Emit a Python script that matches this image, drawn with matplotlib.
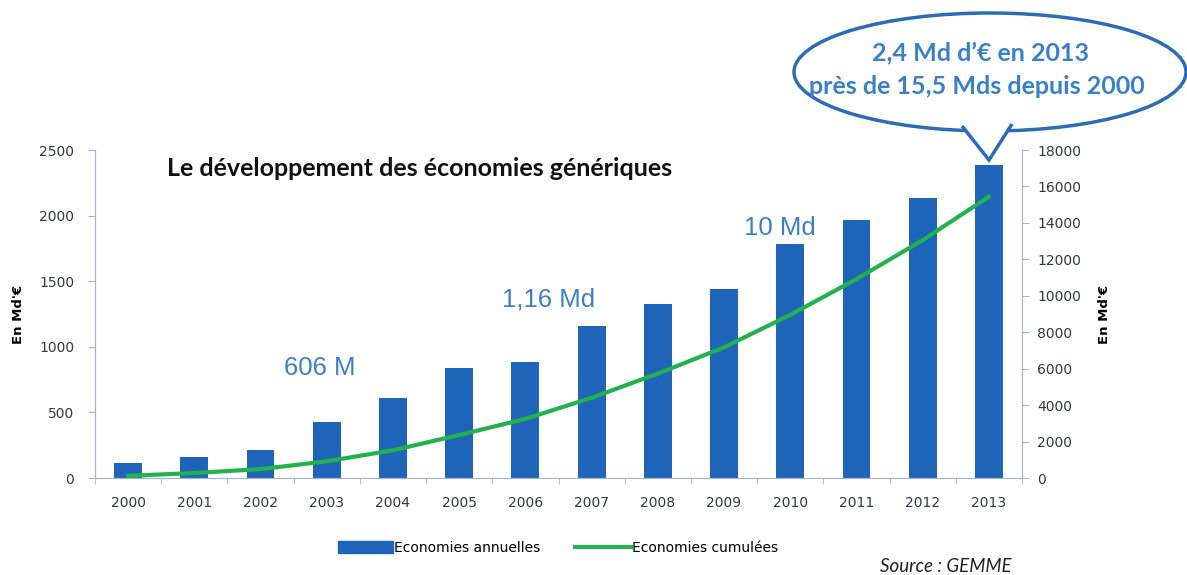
import matplotlib.pyplot as plt
from matplotlib.patches import Ellipse, Polygon
from matplotlib.lines import Line2D
from matplotlib.patches import Patch

# --- data -------------------------------------------------------------
years = ['2000', '2001', '2002', '2003', '2004', '2005', '2006',
         '2007', '2008', '2009', '2010', '2011', '2012', '2013']
annuelles = [115, 160, 213, 427, 606, 838, 884,
             1160, 1326, 1440, 1783, 1966, 2134, 2386]
cumulees = [115, 275, 488, 915, 1521, 2359, 3243,
            4403, 5729, 7169, 8952, 10918, 13052, 15438]

notes = ['606 M', '1,16 Md', '10 Md']
notes_x = [2.9, 6.35, 9.85]
notes_y = [840, 1360, 1905]

W, H = 1187, 575
bar_col = '#1e64b9'
line_col = '#22b14c'
axis_col = '#9fb8cf'
txt_blue = '#3b7fc9'

def px(x, y):
    return x / W, 1 - y / H

fig = plt.figure(figsize=(W / 100, H / 100), dpi=100)
ax = fig.add_axes([95 / W, 1 - 478 / H, (1022 - 95) / W, (478 - 150) / H])
ax2 = ax.twinx()

xs = range(len(years))
ax.bar(xs, annuelles, width=0.42, color=bar_col, zorder=2)
ax2.plot(xs, cumulees, color=line_col, lw=3, zorder=3)

ax.set_xlim(-0.5, len(years) - 0.5)
ax.set_ylim(0, 2500)
ax2.set_ylim(0, 18000)
ax.set_yticks(range(0, 2501, 500))
ax2.set_yticks(range(0, 18001, 2000))
ax.set_xticks(xs)
ax.set_xticklabels(years)
ax.set_xticks([i - 0.5 for i in range(len(years) + 1)], minor=True)
ax.tick_params(axis='x', which='major', length=0, pad=13)
ax.tick_params(axis='x', which='minor', length=4, color=axis_col)

for a in (ax, ax2):
    a.spines['top'].set_visible(False)
    for s in ('left', 'right', 'bottom'):
        a.spines[s].set_color(axis_col)
    a.tick_params(axis='y', colors=axis_col, labelcolor='#2e3a44',
                  labelsize=10, length=5)
ax.tick_params(axis='x', labelsize=10, labelcolor='#2e3a44')
ax.tick_params(axis='y', pad=10)
ax2.tick_params(axis='y', pad=6)

ax.set_ylabel("En Md'€", fontsize=9.5, fontweight='bold', labelpad=10)
ax2.set_ylabel("En Md'€", fontsize=9.5, fontweight='bold', labelpad=12)

for t, x, y in zip(notes, notes_x, notes_y):
    ax.text(x, y, t, color=txt_blue, fontsize=18.5, ha='center', va='center',
            family='Liberation Sans', zorder=4)

fig.text(*px(420, 168), 'Le développement des économies génériques',
         fontsize=18, fontweight='bold', family='Lato', ha='center',
         va='center', color='#111111')

# callout bubble
ell = Ellipse(px(990, 72), 392 / W, 118 / H, transform=fig.transFigure,
              facecolor='white', edgecolor='#2b6cb5', lw=2.5, zorder=5)
fig.add_artist(ell)
tri = Polygon([px(962, 126), px(989, 160), px(1012, 124)], closed=False,
              transform=fig.transFigure, facecolor='white',
              edgecolor='#2b6cb5', lw=2.5, zorder=6)
fig.add_artist(tri)
cover = Polygon([px(964, 124), px(989, 156), px(1010, 122), px(1000, 118),
                 px(975, 118)], transform=fig.transFigure,
                facecolor='white', edgecolor='none', zorder=7)
fig.add_artist(cover)
fig.text(*px(980, 53), "2,4 Md d’€ en 2013", fontsize=18, fontweight='bold',
         family='Lato', color=txt_blue, ha='center', va='center', zorder=8)
fig.text(*px(977, 87), 'près de 15,5 Mds depuis 2000', fontsize=18,
         fontweight='bold', family='Lato', color=txt_blue, ha='center',
         va='center', zorder=8)

handles = [Patch(color=bar_col), Line2D([0], [0], color=line_col, lw=3)]
fig.legend(handles, ['Economies annuelles', 'Economies cumulées'],
           loc='center', bbox_to_anchor=px(558, 548), ncol=2, frameon=False,
           fontsize=10, handlelength=4, handleheight=0.9, columnspacing=2.5,
           handletextpad=0.1)

fig.text(*px(946, 566), 'Source : GEMME', fontsize=13.5, style='italic',
         family='Lato', ha='center', va='center', color='#222222')

fig.savefig('out.png', dpi=100)
